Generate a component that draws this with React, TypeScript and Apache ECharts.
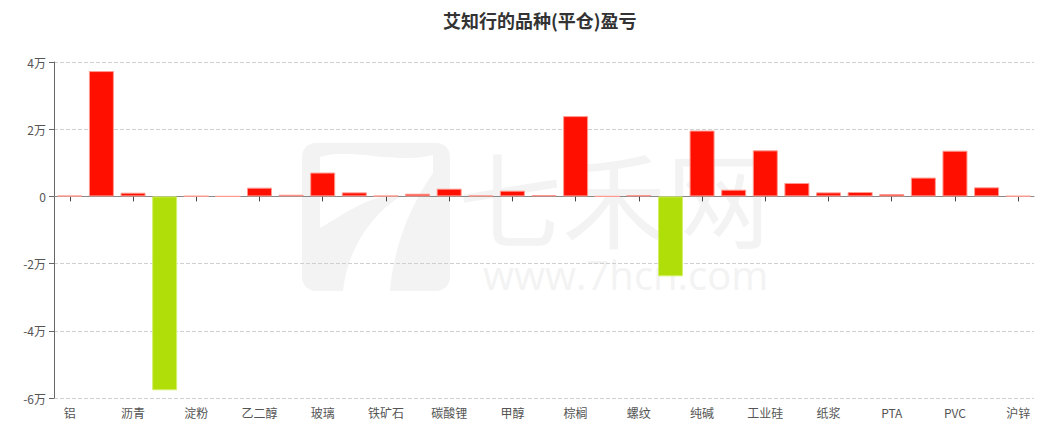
import React, { useEffect, useRef } from "react";
import * as echarts from "echarts";

const title = "艾知行的品种(平仓)盈亏";
const categories = [
  "铝", "沪金", "沥青", "橡胶", "淀粉", "沪镍", "乙二醇", "豆粕", "玻璃", "菜粕",
  "铁矿石", "焦炭", "碳酸锂", "苯乙烯", "甲醇", "豆油", "棕榈", "热卷", "螺纹", "沪铜",
  "纯碱", "尿素", "工业硅", "聚丙烯", "纸浆", "塑料", "PTA", "硅铁", "PVC", "焦煤", "沪锌",
];
const values = [
  200, 37300, 1100, -57700, 100, 0, 2600, 500, 7100, 1200,
  200, 800, 2300, 300, 1700, 400, 23900, 0, 400, -23800,
  19600, 2000, 13700, 4000, 1200, 1300, 700, 5600, 13600, 2700, 100,
];
const yMin = -60000;
const yMax = 40000;
const yStep = 20000;

const logoPath =
  "M 18 14 C 50 4 90 22 131 12 L 131 30 C 110 60 92 100 88 148 L 41 148 C 45 110 65 75 100 52 C 70 50 45 70 18 85 Z";
echarts.graphic.registerShape("logo7", echarts.graphic.extendPath(logoPath, {}) as any);

export default function App() {
  const ref = useRef<HTMLDivElement>(null);
  useEffect(() => {
    if (!ref.current) return;
    const chart = echarts.init(ref.current, undefined, { renderer: "svg" });
    chart.setOption({
      animation: false,
      backgroundColor: "#ffffff",
      title: {
        text: title,
        left: 438,
        top: 6,
        textStyle: {
          fontSize: 18,
          fontWeight: "bold",
          color: "#333",
          fontFamily: "'Noto Sans CJK SC', sans-serif",
        },
      },
      graphic: [
        {
          type: "group",
          z: -10,
          silent: true,
          children: [
            {
              type: "rect",
              shape: { x: 302, y: 143, width: 148, height: 148, r: 14 },
              style: { fill: "#f3f3f3" },
            },
            {
              type: "logo7",
              x: 302,
              y: 143,
              style: { fill: "#ffffff" },
            },
            {
              type: "text",
              x: 458,
              y: 141,
              style: {
                text: "{a|七禾网}\n{b|www.7hcn.com}",
                verticalAlign: "top",
                fill: "#f3f3f3",
                rich: {
                  a: {
                    fontSize: 104,
                    lineHeight: 108,
                    fill: "#f3f3f3",
                    color: "#f3f3f3",
                    fontFamily: "'Noto Sans CJK SC', sans-serif",
                  },
                  b: {
                    fontSize: 40,
                    lineHeight: 50,
                    padding: [0, 0, 0, 25],
                    fill: "#f3f3f3",
                    color: "#f3f3f3",
                    fontFamily: "'Open Sans', sans-serif",
                  },
                },
              },
            },
          ],
        },
      ],
      grid: { left: 54, right: 23, top: 62, bottom: 35, containLabel: false },
      xAxis: [
        {
          type: "category",
          data: categories,
          axisLine: { onZero: true, lineStyle: { color: "#888", width: 1 } },
          axisTick: { show: true, alignWithLabel: true, interval: 1, length: 5, lineStyle: { color: "#444" } },
          axisLabel: { show: false },
        },
        {
          type: "category",
          data: categories,
          position: "bottom",
          axisLine: { show: false, onZero: false },
          axisTick: { show: false },
          axisLabel: {
            show: true,
            interval: 1,
            margin: 8,
            color: "#555",
            fontSize: 12,
            fontFamily: "'Noto Sans CJK SC', sans-serif",
          },
        },
      ],
      yAxis: {
        type: "value",
        min: yMin,
        max: yMax,
        interval: yStep,
        axisLine: { show: true, lineStyle: { color: "#666" } },
        axisTick: { show: true, length: 5, lineStyle: { color: "#666" } },
        axisLabel: {
          color: "#555",
          fontSize: 12,
          margin: 8,
          fontFamily: "'Noto Sans CJK SC', sans-serif",
          formatter: (v: number) => (v === 0 ? "0" : v / 10000 + "万"),
        },
        splitLine: { show: true, lineStyle: { color: "#d0d0d0", type: "dashed" } },
      },
      series: [
        {
          type: "bar",
          xAxisIndex: 0,
          barWidth: 25,
          data: values.map((v) => ({
            value: v,
            itemStyle: {
              color: v < 0 ? "#b0de09" : "#ff0f00",
              borderColor: v < 0 ? "#d4ef6a" : "#ff9a90",
              borderWidth: 1,
            },
          })),
        },
      ],
    });
    return () => chart.dispose();
  }, []);
  return (
    <div
      ref={ref}
      style={{ position: "fixed", left: 0, top: 0, width: 1057, height: 433 }}
    />
  );
}
